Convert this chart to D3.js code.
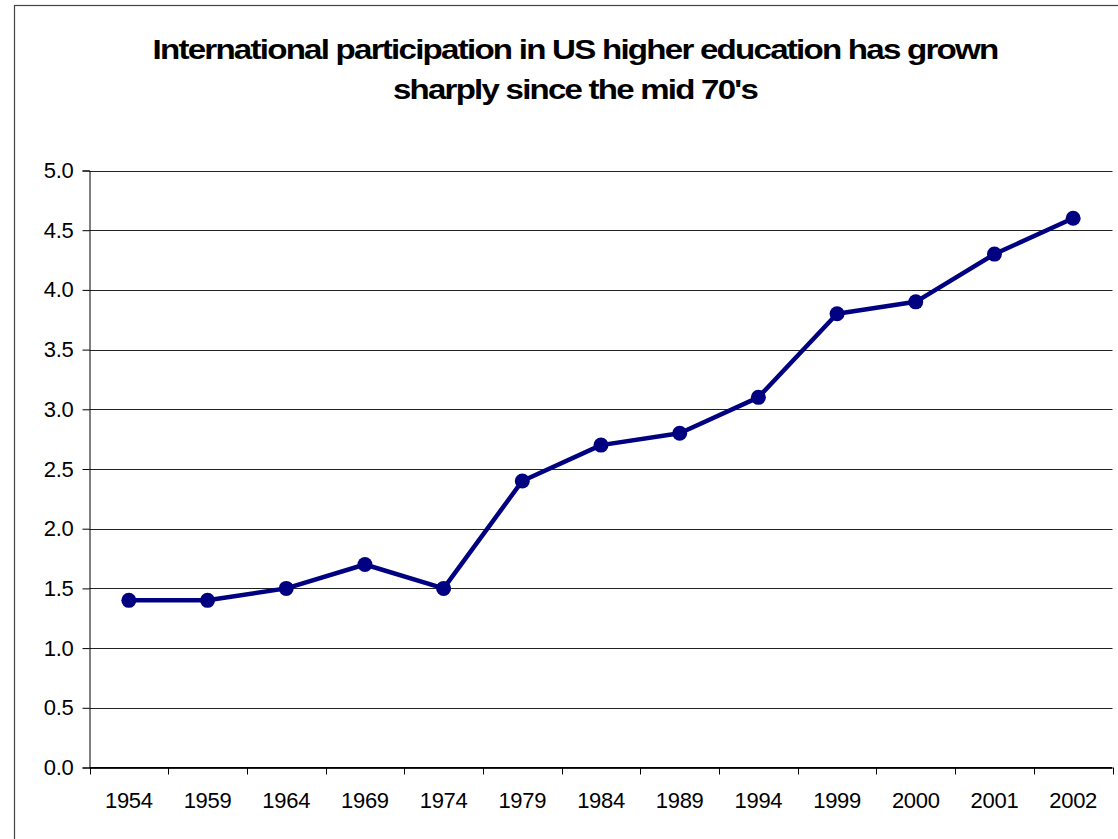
<!DOCTYPE html>
<html><head><meta charset="utf-8">
<script src="https://cdn.jsdelivr.net/npm/d3@7"></script>
<style>body{margin:0;background:#fff}svg{display:block}</style>
</head><body>
<script>
const categories = ["1954","1959","1964","1969","1974","1979","1984","1989","1994","1999","2000","2001","2002"];
const values = [1.4,1.4,1.5,1.7,1.5,2.4,2.7,2.8,3.1,3.8,3.9,4.3,4.6];
const yTicks = [0,0.5,1.0,1.5,2.0,2.5,3.0,3.5,4.0,4.5,5.0];
const titleLines = ["International participation in US higher education has grown","sharply since the mid 70's"];

const W=1118,H=839;
const svg=d3.select("body").append("svg").attr("width",W).attr("height",H);
svg.append("rect").attr("x",14.5).attr("y",5.5).attr("width",1130).attr("height",900)
  .attr("fill","none").attr("stroke","#444").attr("stroke-width",1.2);

const m={l:89.5,r:1112.5,t:170.5,b:767.5};
const x=d3.scaleBand().domain(categories).range([m.l,m.r]);
const y=d3.scaleLinear().domain([0,5]).range([m.b,m.t]);

// gridlines
svg.append("g").selectAll("line").data(yTicks).join("line")
  .attr("x1",m.l).attr("x2",m.r).attr("y1",d=>Math.round(y(d))+0.5).attr("y2",d=>Math.round(y(d))+0.5)
  .attr("stroke","#222").attr("stroke-width",1);

// y axis
const ya=svg.append("g").attr("transform",`translate(${m.l},0)`)
  .call(d3.axisLeft(y).tickValues(yTicks).tickFormat(d3.format(".1f")).tickSize(7).tickPadding(9));
// x axis
const xa=svg.append("g").attr("transform",`translate(0,${m.b})`)
  .call(d3.axisBottom(x).tickSize(0).tickPadding(25));
// x tick marks at band boundaries
const bounds=categories.map(c=>x(c)).concat([m.r]);
svg.append("g").selectAll("line").data(bounds).join("line")
  .attr("x1",d=>Math.round(d)+0.5).attr("x2",d=>Math.round(d)+0.5).attr("y1",m.b).attr("y2",m.b+7)
  .attr("stroke","#000");
[ya,xa].forEach(g=>{
  g.selectAll("path.domain").attr("stroke","#000");
  g.selectAll("line").attr("stroke","#000");
  g.selectAll("text").attr("font-family","'Liberation Sans',Arial,sans-serif").attr("font-size",22).attr("fill","#000").attr("letter-spacing","-0.3px");
});
xa.select("path.domain").remove();
svg.append("line").attr("x1",m.l).attr("x2",m.r).attr("y1",m.b).attr("y2",m.b).attr("stroke","#000");

// line
const pts=categories.map((c,i)=>({c,v:values[i]}));
svg.append("path").datum(pts)
  .attr("d",d3.line().x(d=>x(d.c)+x.bandwidth()/2).y(d=>y(d.v)))
  .attr("fill","none").attr("stroke","#000080").attr("stroke-width",4.5).attr("stroke-linejoin","round");
svg.append("g").selectAll("circle").data(pts).join("circle")
  .attr("cx",d=>x(d.c)+x.bandwidth()/2).attr("cy",d=>y(d.v)).attr("r",7.5).attr("fill","#000080");

// title
const tl=[{t:titleLines[0],y:59,w:845},{t:titleLines[1],y:99,w:364}];
svg.append("g").selectAll("text").data(tl).join("text")
  .attr("x",575).attr("y",d=>d.y).attr("text-anchor","middle")
  .attr("font-family","'Liberation Sans',Arial,sans-serif").attr("font-weight","bold").attr("font-size",28)
  .attr("letter-spacing","-1.5px")
  .attr("textLength",d=>d.w).attr("lengthAdjust","spacingAndGlyphs").text(d=>d.t);
</script>
</body></html>
